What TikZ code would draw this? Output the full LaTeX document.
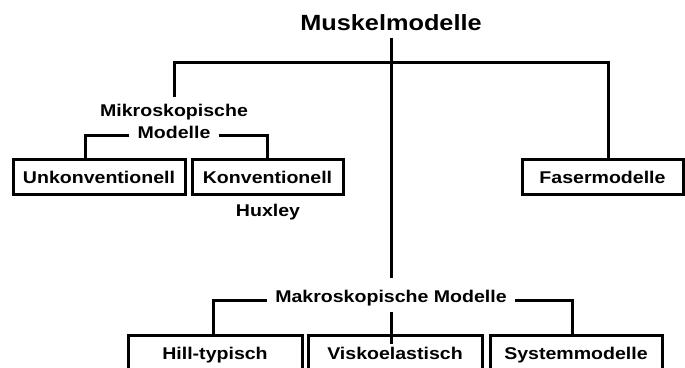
\documentclass[tikz,border=0pt]{standalone}
\usepackage{fontspec}
\setmainfont[FakeStretch=1.15]{Liberation Sans}
\usepackage{tikz}
\usetikzlibrary{calc,positioning}

\tikzset{
  box/.style={draw,line width=3pt,minimum height=35pt,inner sep=0pt,text height=13.5pt,text depth=0pt,font=\fontsize{17}{20}\selectfont\bfseries},
  lbl/.style={inner xsep=8pt,inner ysep=0pt,anchor=base,font=\fontsize{17}{20}\selectfont\bfseries},
  link/.style={line width=3pt}
}

\begin{document}
\begin{tikzpicture}[x=1pt,y=-1pt]
\useasboundingbox (0,0) rectangle (685,367);
\node[lbl,font=\fontsize{22}{26}\selectfont\bfseries] (title) at (391,30.5) {Muskelmodelle};
\node[lbl] (mikro) at (174,116) {Mikroskopische};
\node[lbl] (mikromod) at (174,138) {Modelle};
\node[box,minimum width=172pt] (unkonv) at (99,176.5) {Unkonventionell};
\node[box,minimum width=151pt] (konv) at (267.5,176.5) {Konventionell};
\node[box,minimum width=161pt] (faser) at (602.5,176.5) {Fasermodelle};
\node[lbl] (huxley) at (268,216) {Huxley};
\node[lbl] (makro) at (391,302) {Makroskopische Modelle};
\node[box,minimum width=174pt] (hill) at (215,352.5) {Hill-typisch};
\node[box,minimum width=174pt] (visko) at (395,352.5) {Viskoelastisch};
\node[box,minimum width=172pt] (system) at (576,352.5) {Systemmodelle};
\coordinate (split) at (391,62);
\draw[link] ([yshift=-7.5pt]title.base) -- ([yshift=24pt]makro.base);
\draw[link] ([yshift=19pt]mikro.base) |- (split) -| ([xshift=5.5pt]faser.north);
\draw[link] ([yshift=3pt]mikromod.base west) -| ([xshift=-14pt]unkonv.north);
\draw[link] ([yshift=3pt]mikromod.base east) -| (konv.north);
\draw[link] ([yshift=2pt]makro.base west) -| ([xshift=-2pt]hill.north);
\draw[link] ([yshift=-10pt]makro.base) -- ([yshift=-10pt]makro.base |- visko.north);
\draw[link] ([yshift=2pt]makro.base east) -| ([xshift=-4pt]system.north);
\end{tikzpicture}
\end{document}
